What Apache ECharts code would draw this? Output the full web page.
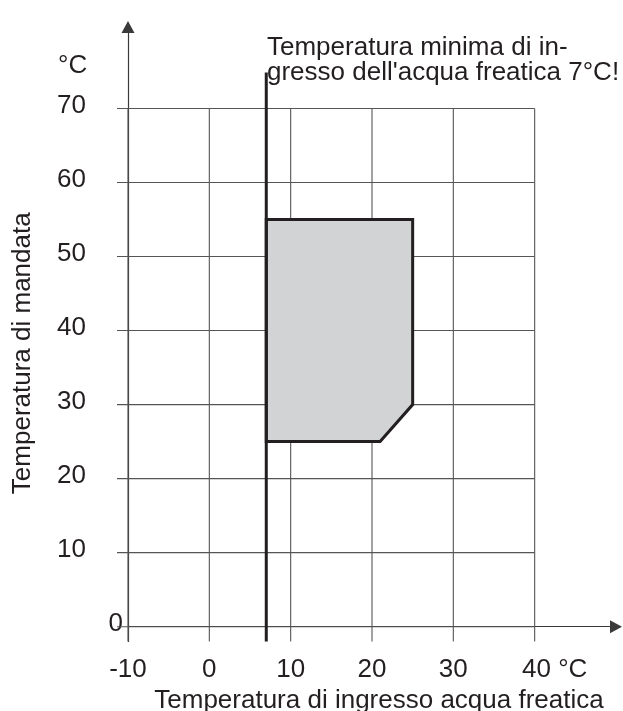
<!DOCTYPE html>
<html><head><meta charset="utf-8">
<script src="https://cdn.jsdelivr.net/npm/echarts@6/dist/echarts.min.js"></script>
<style>html,body{margin:0;padding:0;background:#fff}#chart{width:623px;height:711px}</style>
</head><body><div id="chart"></div>
<script>
// ---- data ----
const xTickValues = [-10, 0, 10, 20, 30, 40];
const yTickValues = [0, 10, 20, 30, 40, 50, 60, 70];
const minInletTemp = 7;
const envelopeX = [7, 25, 25, 21, 7];
const envelopeY = [55, 55, 30, 25, 25];
const xAxisName = 'Temperatura di ingresso acqua freatica';
const yAxisName = 'Temperatura di mandata';
const unitLabel = '°C';
const noteText = 'Temperatura minima di in-\ngresso dell\'acqua freatica 7°C!';

// ---- chart ----
const FONT = '"Liberation Sans", Arial, Helvetica, sans-serif';
const TXT = '#231f20';
const X_MIN = -10, X_MAX = 50, Y_MIN = -2, Y_MAX = 81;
const xLast = xTickValues[xTickValues.length - 1];
const yLast = yTickValues[yTickValues.length - 1];

const hLines = yTickValues.map(v => [X_MIN, v, xLast, v]);
const vLines = xTickValues.map(v => [v, Y_MIN, v, yLast]);
const envelope = envelopeX.map((x, i) => [x, envelopeY[i]]);

const chart = echarts.init(document.getElementById('chart'), null, {renderer: 'canvas'});
chart.setOption({
  animation: false,
  backgroundColor: '#fff',
  textStyle: {fontFamily: FONT, color: TXT},
  grid: {left: 128, top: 27, width: 488, height: 614.5, containLabel: false, outerBoundsMode: 'none'},
  xAxis: {
    type: 'value', min: X_MIN, max: X_MAX,
    axisLine: {show: true, onZero: true, symbol: ['none', 'triangle'], symbolSize: [13, 12],
      lineStyle: {color: '#3a3a3a', width: 1.2}},
    axisTick: {show: false}, splitLine: {show: false},
    axisLabel: {
      customValues: xTickValues, margin: 15, fontSize: 26, color: TXT, fontFamily: FONT,
      formatter: v => v === xLast ? '{p| }' + v + ' ' + unitLabel : String(v),
      rich: {p: {width: 40, fontSize: 26}}
    },
    name: xAxisName, nameLocation: 'middle', nameGap: 46,
    nameTextStyle: {fontSize: 26, color: TXT, fontFamily: FONT, padding: [0, 0, 0, 14]}
  },
  yAxis: {
    type: 'value', min: Y_MIN, max: Y_MAX,
    axisLine: {show: true, onZero: false, symbol: ['none', 'triangle'], symbolSize: [13, 12],
      lineStyle: {color: '#3a3a3a', width: 1.2}},
    axisTick: {show: false}, splitLine: {show: false},
    axisLabel: {
      customValues: yTickValues, margin: 5, fontSize: 26, color: TXT, fontFamily: FONT,
      padding: [0, 0, 6, 0],
      formatter: v => v === 0 ? '0' : v + '{p| }',
      rich: {p: {width: 37, fontSize: 26}}
    },
    name: yAxisName, nameLocation: 'middle', nameGap: 92,
    nameTextStyle: {fontSize: 26, color: TXT, fontFamily: FONT, padding: [0, 38, 0, 0]}
  },
  graphic: [
    {type: 'text', left: 58, top: 53, style: {text: unitLabel, fontSize: 26, fill: TXT, fontFamily: FONT}},
    {type: 'text', left: 267, top: 35, style: {text: noteText, fontSize: 26, lineHeight: 25, fill: TXT, fontFamily: FONT}}
  ],
  series: [
    {
      type: 'custom', name: 'gridH', coordinateSystem: 'cartesian2d', z: 1, clip: false,
      encode: {x: [0, 2], y: [1, 3]},
      data: hLines,
      renderItem: (params, api) => {
        const p1 = api.coord([api.value(0), api.value(1)]);
        const p2 = api.coord([api.value(2), api.value(3)]);
        return {type: 'line', shape: {x1: p1[0] - 11, y1: p1[1], x2: p2[0], y2: p2[1]},
          style: {stroke: '#555', lineWidth: 1.1}};
      }
    },
    {
      type: 'custom', name: 'gridV', coordinateSystem: 'cartesian2d', z: 1, clip: false,
      encode: {x: [0, 2], y: [1, 3]},
      data: vLines,
      renderItem: (params, api) => {
        const p1 = api.coord([api.value(0), api.value(1)]);
        const p2 = api.coord([api.value(2), api.value(3)]);
        return {type: 'line', shape: {x1: p1[0], y1: p1[1], x2: p2[0], y2: p2[1]},
          style: {stroke: '#555', lineWidth: 1.1}};
      }
    },
    {
      type: 'custom', name: 'envelope', coordinateSystem: 'cartesian2d', z: 3, clip: false,
      data: [0],
      renderItem: (params, api) => {
        const pts = envelope.map(p => api.coord(p));
        return {type: 'polygon', shape: {points: pts},
          style: {fill: '#d1d3d4', stroke: '#231f20', lineWidth: 3, lineJoin: 'miter'}};
      }
    },
    {
      type: 'custom', name: 'minInlet', coordinateSystem: 'cartesian2d', z: 4, clip: false,
      data: [[minInletTemp]],
      renderItem: (params, api) => {
        const x = api.value(0);
        const pb = api.coord([x, Y_MIN]);
        const pt = api.coord([x, yLast]);
        return {type: 'line', shape: {x1: pb[0], y1: pb[1], x2: pt[0], y2: pt[1] - 36},
          style: {stroke: '#231f20', lineWidth: 3}};
      }
    }
  ]
});
</script></body></html>
